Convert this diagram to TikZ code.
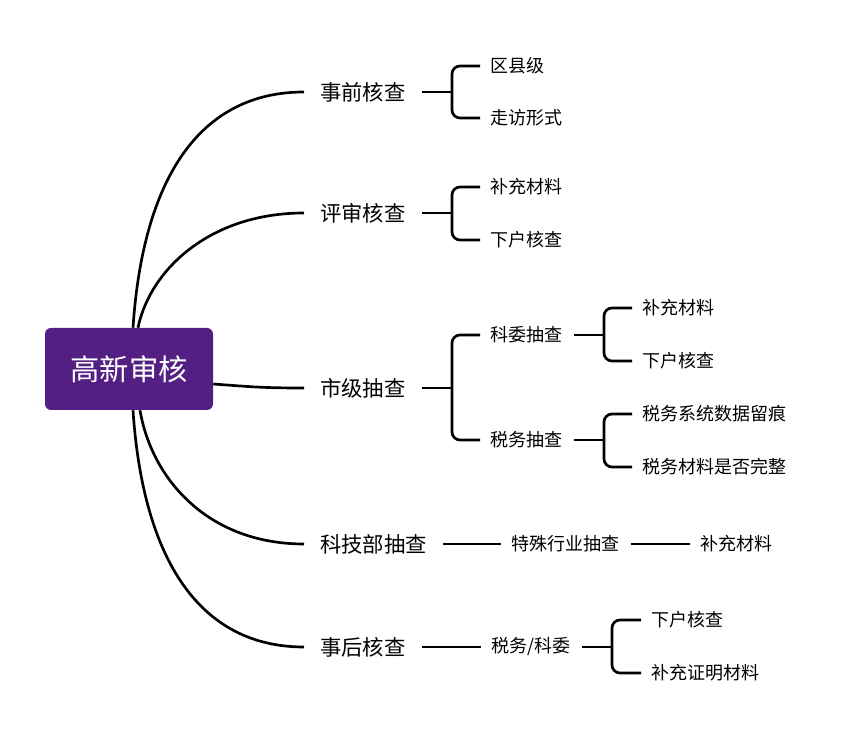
\documentclass[tikz,border=0pt]{standalone}
\usepackage{fontspec}
\setmainfont{Noto Sans CJK SC}
\usetikzlibrary{calc}
\definecolor{rootpurple}{RGB}{83,31,130}

\begin{document}
\begin{tikzpicture}[x=0.75pt,y=0.75pt,yscale=-1,xscale=1,
  rootbox/.style={fill=rootpurple,rounded corners=4.5pt,minimum width=126pt,minimum height=61.5pt,inner sep=0pt,text=white,font=\fontsize{22pt}{26pt}\selectfont},
  topic/.style={anchor=west,inner xsep=12pt,inner ysep=2pt,font=\fontsize{16pt}{19pt}\selectfont},
  subtopic/.style={anchor=west,inner xsep=8pt,inner ysep=2pt,font=\fontsize{13.5pt}{16pt}\selectfont},
  branch/.style={line width=2pt,black},
  bracket/.style={branch,rounded corners=6pt}]
\useasboundingbox (0,0) rectangle (851,741);

% Root Node
\draw (129,369) node [rootbox] (root) {高新审核};

% Text Node
\draw (304,92) node [topic] (pre) {事前核查};
% Text Node
\draw (304,213) node [topic] (rev) {评审核查};
% Text Node
\draw (304,388) node [topic] (city) {市级抽查};
% Text Node
\draw (304,544) node [topic] (tech) {科技部抽查};
% Text Node
\draw (304,647) node [topic] (post) {事后核查};

% Text Node
\draw (480,66) node [subtopic] (pre1) {区县级};
% Text Node
\draw (480,118) node [subtopic] (pre2) {走访形式};
% Text Node
\draw (480,187) node [subtopic] (rev1) {补充材料};
% Text Node
\draw (480,240) node [subtopic] (rev2) {下户核查};
% Text Node
\draw (480,335) node [subtopic] (kw) {科委抽查};
% Text Node
\draw (480,440) node [subtopic] (sw) {税务抽查};
% Text Node
\draw (632,308) node [subtopic] (kw1) {补充材料};
% Text Node
\draw (632,361) node [subtopic] (kw2) {下户核查};
% Text Node
\draw (632,414) node [subtopic] (sw1) {税务系统数据留痕};
% Text Node
\draw (632,467) node [subtopic] (sw2) {税务材料是否完整};
% Text Node
\draw (501,544) node [subtopic] (spec) {特殊行业抽查};
% Text Node
\draw (690,544) node [subtopic] (spec1) {补充材料};
% Text Node
\draw (481,647) node [subtopic] (swkw) {税务/科委};
% Text Node
\draw (641,620) node [subtopic] (swkw1) {下户核查};
% Text Node
\draw (641,673) node [subtopic] (swkw2) {补充证明材料};

%Curve Lines
\draw [branch] ($(root.north)+(4,0)$) .. controls +(10,-150) and +(-104,0) .. (pre.west);
\draw [branch] ($(root.north)+(9,0)$) .. controls +(12,-58) and +(-94,0) .. (rev.west);
\draw [branch] ($(root.east)+(0,15)$) .. controls +(40,3) and +(-40,0) .. (city.west);
\draw [branch] ($(root.south)+(11,0)$) .. controls +(12,70) and +(-95,0) .. (tech.west);
\draw [branch] ($(root.south)+(4,0)$) .. controls +(10,150) and +(-104,0) .. (post.west);

%Brackets
\coordinate (preb) at (452,92);
\draw [branch] (pre.east) -- (preb);
\draw [bracket] (pre1.west) -| (preb) |- (pre2.west);
\coordinate (revb) at (452,213);
\draw [branch] (rev.east) -- (revb);
\draw [bracket] (rev1.west) -| (revb) |- (rev2.west);
\coordinate (cityb) at (452,388);
\draw [branch] (city.east) -- (cityb);
\draw [bracket] (kw.west) -| (cityb) |- (sw.west);
\coordinate (kwb) at (604,335);
\draw [branch] (kw.east) -- (kwb);
\draw [bracket] (kw1.west) -| (kwb) |- (kw2.west);
\coordinate (swb) at (604,440);
\draw [branch] (sw.east) -- (swb);
\draw [bracket] (sw1.west) -| (swb) |- (sw2.west);
\coordinate (swkwb) at (612,647);
\draw [branch] (swkw.east) -- (swkwb);
\draw [bracket] (swkw1.west) -| (swkwb) |- (swkw2.west);

%Straight Lines
\draw [branch] (tech.east) -- (spec.west);
\draw [branch] (spec.east) -- (spec1.west);
\draw [branch] (post.east) -- (swkw.west);

\end{tikzpicture}
\end{document}
